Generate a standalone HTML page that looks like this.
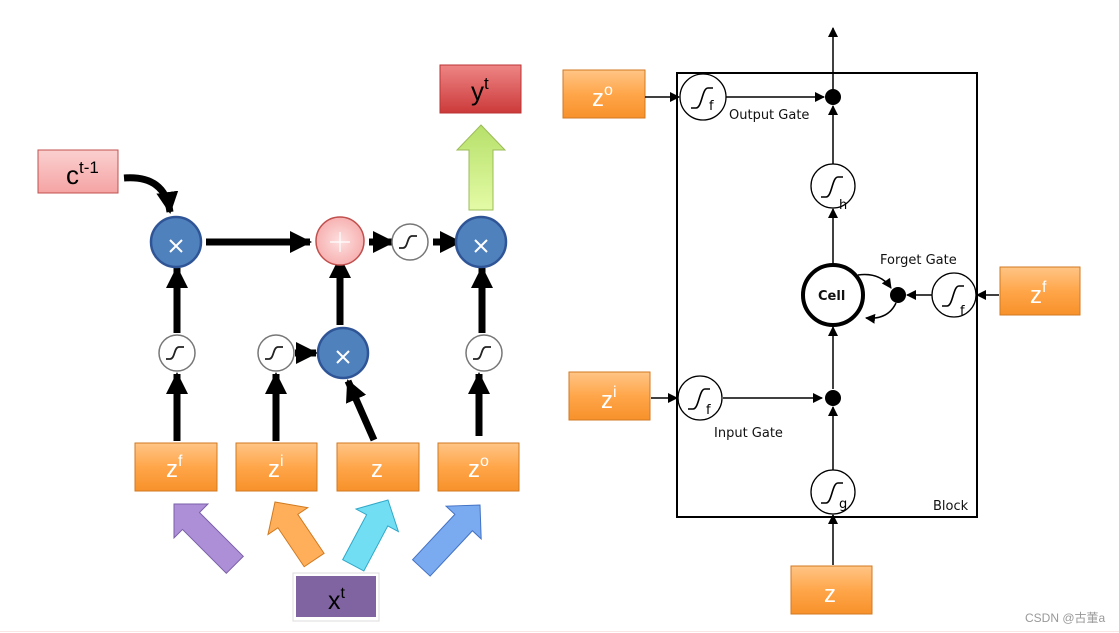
<!DOCTYPE html>
<html><head><meta charset="utf-8"><style>
html,body{margin:0;padding:0;background:#fff;}
svg{display:block;font-family:"Liberation Sans",sans-serif;}
</style></head><body>
<svg width="1119" height="633" viewBox="0 0 1119 633" xmlns="http://www.w3.org/2000/svg">
<defs>
<linearGradient id="og" x1="0" y1="0" x2="0" y2="1"><stop offset="0" stop-color="#ffc586"/><stop offset="0.5" stop-color="#ffa64a"/><stop offset="1" stop-color="#f7912a"/></linearGradient>
<linearGradient id="pg" x1="0" y1="0" x2="0" y2="1"><stop offset="0" stop-color="#fbd0d0"/><stop offset="1" stop-color="#f5a3a3"/></linearGradient>
<linearGradient id="rg" x1="0" y1="0" x2="0" y2="1"><stop offset="0" stop-color="#ee8585"/><stop offset="1" stop-color="#cc3a3a"/></linearGradient>
<linearGradient id="gg" x1="0" y1="0" x2="0" y2="1"><stop offset="0" stop-color="#b6e06a"/><stop offset="1" stop-color="#e4fba6"/></linearGradient>
<radialGradient id="pk"><stop offset="0" stop-color="#fde0e0"/><stop offset="1" stop-color="#f7b1b1"/></radialGradient>
<marker id="ab" markerWidth="10" markerHeight="10" refX="9" refY="5" orient="auto" markerUnits="userSpaceOnUse"><path d="M0,0 L10,5 L0,10 z" fill="#000"/></marker>
<marker id="AB" markerWidth="22" markerHeight="22" refX="20" refY="11" orient="auto" markerUnits="userSpaceOnUse"><path d="M0,0 L22,11 L0,22 z" fill="#000"/></marker>
</defs>

<!-- LEFT -->
<rect x="38" y="150" width="80" height="43" fill="url(#pg)" stroke="#c0504d" stroke-width="1"/>
<text x="66" y="184" font-size="26">c<tspan font-size="17" dy="-11">t-1</tspan></text>
<rect x="440" y="65" width="81" height="48" fill="url(#rg)" stroke="#b33" stroke-width="1"/>
<text x="471" y="100" font-size="26">y<tspan font-size="17" dy="-11">t</tspan></text>
<polygon points="481,125 505,150 493,150 493,210 469,210 469,150 457,150" fill="url(#gg)" stroke="#9bbb59" stroke-width="1"/>

<path d="M124,178 Q165,175 170,212" fill="none" stroke="#000" stroke-width="7" marker-end="url(#AB)"/>
<line x1="206" y1="242" x2="310" y2="242" stroke="#000" stroke-width="7" marker-end="url(#AB)"/>
<line x1="369" y1="242" x2="393" y2="242" stroke="#000" stroke-width="7" marker-end="url(#AB)"/>
<line x1="433" y1="242" x2="460" y2="242" stroke="#000" stroke-width="7" marker-end="url(#AB)"/>
<line x1="177" y1="333" x2="177" y2="268" stroke="#000" stroke-width="7" marker-end="url(#AB)"/>
<line x1="340" y1="325" x2="340" y2="258" stroke="#000" stroke-width="7" marker-end="url(#AB)"/>
<line x1="482" y1="333" x2="482" y2="268" stroke="#000" stroke-width="7" marker-end="url(#AB)"/>
<line x1="177" y1="441" x2="177" y2="374" stroke="#000" stroke-width="7" marker-end="url(#AB)"/>
<line x1="276" y1="441" x2="276" y2="374" stroke="#000" stroke-width="7" marker-end="url(#AB)"/>
<line x1="479" y1="436" x2="479" y2="374" stroke="#000" stroke-width="7" marker-end="url(#AB)"/>
<line x1="295" y1="353" x2="316" y2="353" stroke="#000" stroke-width="7" marker-end="url(#AB)"/>
<line x1="374" y1="440" x2="348" y2="381" stroke="#000" stroke-width="7" marker-end="url(#AB)"/>

<g stroke="#2f5597" stroke-width="2.5" fill="#4f81bd">
<circle cx="176" cy="242" r="25"/><circle cx="481" cy="242" r="25"/><circle cx="343" cy="353" r="25"/></g>
<circle cx="340" cy="241" r="24" fill="url(#pk)" stroke="#c0504d" stroke-width="1.5"/>
<g stroke="#fff" stroke-width="2">
<path d="M170,240 l12,12 M182,240 l-12,12"/><path d="M475,240 l12,12 M487,240 l-12,12"/><path d="M337,351 l12,12 M349,351 l-12,12"/>
<path d="M330,242 h20 M340,232 v20" stroke-width="1.2"/></g>
<g fill="#fff" stroke="#777" stroke-width="1.5">
<circle cx="410" cy="242" r="18"/><circle cx="177" cy="353" r="18"/><circle cx="276" cy="353" r="18"/><circle cx="484" cy="353" r="18"/></g>
<g fill="none" stroke="#222" stroke-width="1.8">
<path d="M399,248 h4 c5,0 4,-12 9,-12 h5"/><path d="M166,359 h4 c5,0 4,-12 9,-12 h5"/><path d="M265,359 h4 c5,0 4,-12 9,-12 h5"/><path d="M473,359 h4 c5,0 4,-12 9,-12 h5"/></g>

<g fill="url(#og)" stroke="#d07a20" stroke-width="1">
<rect x="135" y="443" width="82" height="48"/><rect x="236" y="443" width="81" height="48"/><rect x="337" y="443" width="82" height="48"/><rect x="438" y="443" width="81" height="48"/></g>
<g fill="#fff" font-size="24">
<text x="166" y="477">z<tspan font-size="16" dy="-11">f</tspan></text>
<text x="268" y="477">z<tspan font-size="16" dy="-11">i</tspan></text>
<text x="371" y="477">z</text>
<text x="468" y="477">z<tspan font-size="16" dy="-11">o</tspan></text></g>

<g stroke-width="1">
<polygon transform="translate(174,504) rotate(-45)" points="0,0 24,24 12,24 12,86 -12,86 -12,24 -24,24" fill="#ad8fd8" stroke="#7a5fa8"/>
<polygon transform="translate(275,502) rotate(-34)" points="0,0 24,23 12,23 12,70 -12,70 -12,23 -24,23" fill="#ffae5a" stroke="#d07a20"/>
<polygon transform="translate(388,500) rotate(28)" points="0,0 24,23 12,23 12,74 -12,74 -12,23 -24,23" fill="#72def3" stroke="#30a8c8"/>
<polygon transform="translate(480,505) rotate(43)" points="0,0 24,24 12,24 12,86 -12,86 -12,24 -24,24" fill="#7aaaf0" stroke="#4472c4"/></g>
<rect x="293" y="573" width="86" height="48" fill="#fff" stroke="#ddd" stroke-width="1"/>
<rect x="296" y="576" width="80" height="41" fill="#8064a2"/>
<text x="328" y="609" font-size="25">x<tspan font-size="16" dy="-11">t</tspan></text>

<!-- RIGHT -->
<rect x="677" y="73" width="300" height="444" fill="none" stroke="#000" stroke-width="2"/>
<g fill="url(#og)" stroke="#d07a20" stroke-width="1">
<rect x="563" y="70" width="82" height="48"/><rect x="1000" y="267" width="80" height="48"/><rect x="569" y="372" width="81" height="48"/><rect x="791" y="566" width="81" height="48"/></g>
<g fill="#fff" font-size="24">
<text x="592" y="106">z<tspan font-size="16" dy="-11">o</tspan></text>
<text x="1030" y="303">z<tspan font-size="16" dy="-11">f</tspan></text>
<text x="601" y="408">z<tspan font-size="16" dy="-11">i</tspan></text>
<text x="824" y="602">z</text></g>

<g stroke="#000" stroke-width="1.5" fill="none">
<line x1="833" y1="97" x2="833" y2="28" marker-end="url(#ab)"/>
<line x1="645" y1="97" x2="679" y2="97" marker-end="url(#ab)"/>
<line x1="726" y1="97" x2="824" y2="97" marker-end="url(#ab)"/>
<line x1="833" y1="164" x2="833" y2="106" marker-end="url(#ab)"/>
<line x1="833" y1="264" x2="833" y2="209" marker-end="url(#ab)"/>
<line x1="833" y1="389" x2="833" y2="327" marker-end="url(#ab)"/>
<line x1="833" y1="470" x2="833" y2="407" marker-end="url(#ab)"/>
<line x1="833" y1="565" x2="833" y2="515" marker-end="url(#ab)"/>
<line x1="651" y1="398" x2="677" y2="398" marker-end="url(#ab)"/>
<line x1="723" y1="398" x2="822" y2="398" marker-end="url(#ab)"/>
<line x1="999" y1="295" x2="977" y2="295" marker-end="url(#ab)"/>
<line x1="932" y1="295" x2="907" y2="295" marker-end="url(#ab)"/>
<path d="M858,275 Q880,272 891,288" marker-end="url(#ab)"/>
<path d="M896,303 Q888,320 866,318" marker-end="url(#ab)"/>
</g>
<g fill="#fff" stroke="#000" stroke-width="1.3">
<circle cx="703" cy="97" r="23"/><circle cx="833" cy="186" r="22"/><circle cx="954" cy="295" r="22"/><circle cx="700" cy="398" r="22"/><circle cx="833" cy="492" r="22"/></g>
<circle cx="833" cy="295" r="30" fill="#fff" stroke="#000" stroke-width="4"/>
<g fill="#000"><circle cx="833" cy="97" r="8"/><circle cx="898" cy="295" r="8"/><circle cx="833" cy="398" r="8"/></g>
<g fill="none" stroke="#000" stroke-width="1.6">
<path d="M691,108 h5 c6,0 6,-20 12,-20 h5"/><path d="M821,197 h5 c6,0 6,-20 12,-20 h5"/><path d="M942,306 h5 c6,0 6,-20 12,-20 h5"/><path d="M688,409 h5 c6,0 6,-20 12,-20 h5"/><path d="M821,503 h5 c6,0 6,-20 12,-20 h5"/></g>
<g font-family="DejaVu Sans, sans-serif" font-size="13px" fill="#000">
<text x="709" y="110" style="font-size:13px">f</text><text x="839" y="209" style="font-size:13px">h</text><text x="960" y="315" style="font-size:13px">f</text><text x="706" y="414" style="font-size:13px">f</text><text x="839" y="508" style="font-size:13px">g</text></g>
<g font-family="DejaVu Sans, sans-serif" font-size="13" fill="#111">
<text x="729" y="119">Output Gate</text>
<text x="880" y="264">Forget Gate</text>
<text x="714" y="437">Input Gate</text>
<text x="933" y="510">Block</text>
<text x="818" y="300" font-weight="bold">Cell</text></g>
<text x="1025" y="622" font-size="12" fill="#999">CSDN @古董a</text>
<line x1="0" y1="631.5" x2="1119" y2="631.5" stroke="#fbe6e6" stroke-width="1"/>
</svg>
</body></html>
